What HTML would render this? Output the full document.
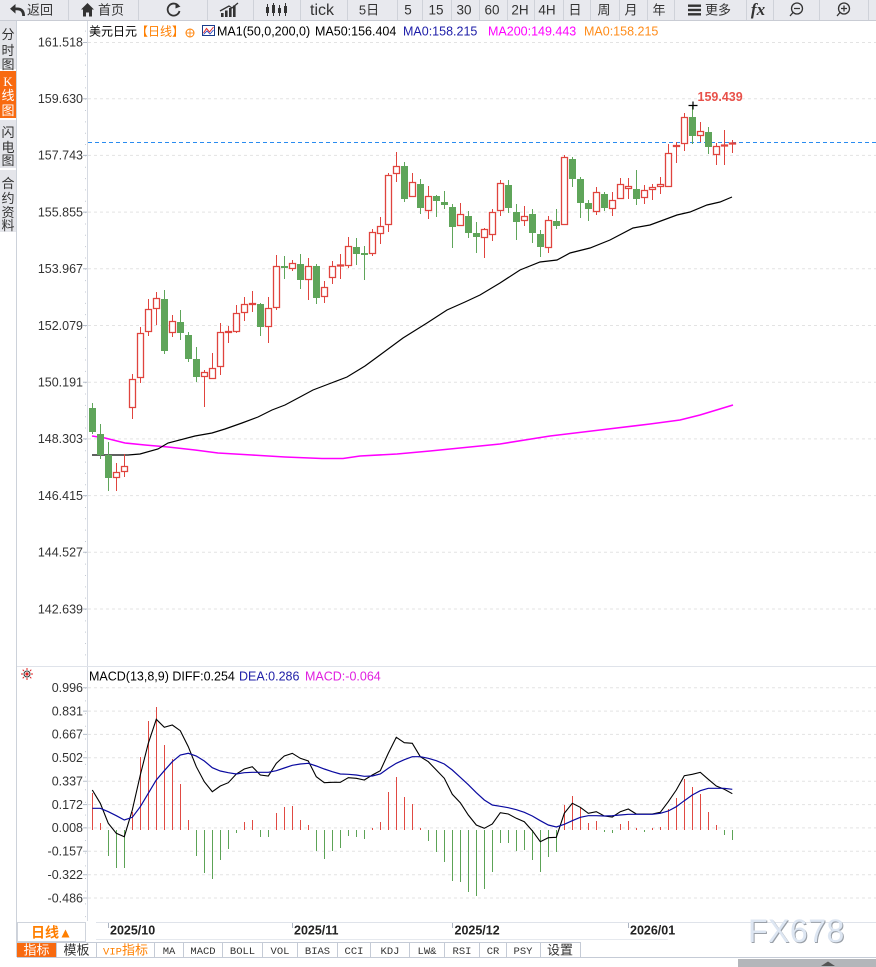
<!DOCTYPE html>
<html><head><meta charset="utf-8"><style>
html,body{margin:0;padding:0;background:#fff;}
svg{display:block;font-family:"Liberation Sans","Noto Sans CJK SC",sans-serif;}
</style></head><body>
<svg width="876" height="967" viewBox="0 0 876 967" xmlns="http://www.w3.org/2000/svg">
<rect x="0" y="0" width="876" height="967" fill="#fff"/>
<!-- toolbar -->
<rect x="0" y="0" width="876" height="20" fill="#e8e9ee"/>
<line x1="0" y1="20.5" x2="876" y2="20.5" stroke="#c9ccd4"/>
<g stroke="#cfd2d9" stroke-width="1">
<path d="M68.5 0V20M138.5 0V20M207.5 0V20M253.5 0V20M300.5 0V20M347.5 0V20M397.5 0V20M422.5 0V20M451.5 0V20M479.5 0V20M507.5 0V20M534.5 0V20M563.5 0V20M590.5 0V20M619.5 0V20M647.5 0V20M674.5 0V20M746.5 0V20M773.5 0V20M819.5 0V20M868.5 0V20"/>
</g>
<g fill="#333">
<path d="M25 16 Q25 7.5 17 7.5 H15.5 V4 L10 8.8 L15.5 13.6 V10.3 H17 Q22.2 10.3 22.2 16 Z"/>
<path d="M87.5 3 L81 9.5 H83 V16.5 H86 V12.5 H89 V16.5 H92 V9.5 H94 Z"/>
<rect x="221" y="13" width="2.6" height="4"/><rect x="225" y="10.5" width="2.6" height="6.5"/><rect x="229" y="8" width="2.6" height="9"/><rect x="233" y="5.5" width="2.6" height="11.5"/>
<rect x="266" y="7" width="3" height="6"/><rect x="272" y="5" width="3" height="8"/><rect x="278" y="8" width="3" height="5"/><rect x="284" y="6" width="3" height="7"/>
<rect x="688" y="4.5" width="13" height="2.4"/><rect x="688" y="8.8" width="13" height="2.4"/><rect x="688" y="13.1" width="13" height="2.4"/>
</g>
<path d="M220 11 L229 6 L232 8 L238 3" stroke="#333" stroke-width="1.3" fill="none"/>
<path d="M267.5 4V16M273.5 3V16M279.5 5V16M285.5 3V16" stroke="#333" stroke-width="1"/>
<path d="M178.5 6 A6 6 0 1 0 179.5 11" stroke="#333" stroke-width="1.8" fill="none"/>
<path d="M175.5 3 L180.5 6.5 L175.5 8.5 Z" fill="#333"/>
<circle cx="797" cy="8.5" r="5.5" stroke="#333" stroke-width="1.3" fill="none"/>
<path d="M794 8.5H800M793 12.5L790 16" stroke="#333" stroke-width="1.3"/>
<circle cx="844" cy="8.5" r="5.5" stroke="#333" stroke-width="1.3" fill="none"/>
<path d="M841 8.5H847M844 5.5V11.5M840 12.5L837 16" stroke="#333" stroke-width="1.3"/>
<g font-size="13" fill="#333" text-anchor="middle">
<text x="40" y="14.5">返回</text>
<text x="111" y="14.5">首页</text>
<text x="322" y="15" font-size="16">tick</text>
<text x="369" y="14.5">5日</text>
<text x="408" y="14.5" font-size="13.5">5</text>
<text x="436" y="14.5" font-size="13.5">15</text>
<text x="464" y="14.5" font-size="13.5">30</text>
<text x="492" y="14.5" font-size="13.5">60</text>
<text x="520" y="14.5" font-size="13.5">2H</text>
<text x="547" y="14.5" font-size="13.5">4H</text>
<text x="575" y="14.5">日</text>
<text x="604" y="14.5">周</text>
<text x="631" y="14.5">月</text>
<text x="659" y="14.5">年</text>
<text x="718" y="14.5">更多</text>
<text x="758" y="15" font-size="17" font-weight="bold" font-style="italic" font-family="Liberation Serif,serif">fx</text>
</g>
<!-- left sidebar -->
<rect x="0" y="21" width="16" height="48" fill="#e4e5ea"/>
<rect x="0" y="71" width="16" height="47" fill="#f86a10"/>
<rect x="0" y="120" width="16" height="48" fill="#e4e5ea"/>
<rect x="0" y="170" width="16" height="62" fill="#e4e5ea"/>
<line x1="16.5" y1="21" x2="16.5" y2="957" stroke="#cdd2da"/>
<g font-size="13" fill="#333" text-anchor="middle">
<text x="8" y="39">分</text><text x="8" y="55">时</text><text x="8" y="69">图</text>
<text x="8" y="86" fill="#fff" font-family="Liberation Serif,serif">K</text><text x="8" y="100" fill="#fff">线</text><text x="8" y="115" fill="#fff">图</text>
<text x="8" y="137">闪</text><text x="8" y="152">电</text><text x="8" y="165">图</text>
<text x="8" y="188">合</text><text x="8" y="203">约</text><text x="8" y="217">资</text><text x="8" y="230">料</text>
</g>
<!-- axes -->
<line x1="87.5" y1="21" x2="87.5" y2="921" stroke="#d6dae2"/>
<line x1="17" y1="666.5" x2="876" y2="666.5" stroke="#dfe3ea"/>
<path d="M85 21V660" stroke="#c4cad4" stroke-width="1" stroke-dasharray="1 10.34" stroke-dashoffset="-9.66" fill="none" transform="translate(0.5,0)"/>
<path d="M85 680V920" stroke="#c4cad4" stroke-width="1" stroke-dasharray="1 11.69" stroke-dashoffset="-7.7" fill="none" transform="translate(0.5,0)"/>
<!-- main grid -->
<g stroke="#e3e3e3" stroke-dasharray="3 3">
<path d="M88 42.5H876M88 98.7H876M88 155.4H876M88 212.1H876M88 268.8H876M88 325.5H876M88 382.2H876M88 438.9H876M88 495.6H876M88 552.3H876M88 609H876"/>
<path d="M88 687.7H876M88 711.1H876M88 734.4H876M88 757.8H876M88 781.2H876M88 804.6H876M88 827.9H876M88 851.3H876M88 874.7H876M88 898H876"/>
</g>
<g stroke="#b8c0cc"><path d="M83 42.5H87M83 98.7H87M83 155.4H87M83 212.1H87M83 268.8H87M83 325.5H87M83 382.2H87M83 438.9H87M83 495.6H87M83 552.3H87M83 609H87M83 687.7H87M83 711.1H87M83 734.4H87M83 757.8H87M83 781.2H87M83 804.6H87M83 827.9H87M83 851.3H87M83 874.7H87M83 898H87"/></g>
<g font-size="12.5" fill="#333" text-anchor="end">
<text x="83" y="46.5">161.518</text><text x="83" y="103">159.630</text><text x="83" y="159.7">157.743</text><text x="83" y="216.4">155.855</text><text x="83" y="273.1">153.967</text><text x="83" y="329.8">152.079</text><text x="83" y="386.5">150.191</text><text x="83" y="443.2">148.303</text><text x="83" y="499.9">146.415</text><text x="83" y="556.6">144.527</text><text x="83" y="613.3">142.639</text>
<text x="83" y="692">0.996</text><text x="83" y="715.4">0.831</text><text x="83" y="738.7">0.667</text><text x="83" y="762.1">0.502</text><text x="83" y="785.5">0.337</text><text x="83" y="808.9">0.172</text><text x="83" y="832.2">0.008</text><text x="83" y="855.6">-0.157</text><text x="83" y="879">-0.322</text><text x="83" y="902.3">-0.486</text>
</g>
<!-- header -->
<g font-size="12.5">
<text x="89" y="35.5" fill="#000" font-size="12">美元日元</text>
<text x="136" y="35.5" fill="#ff7f00" font-size="12">【日线】</text>
<text x="217" y="35.5" fill="#000">MA1(50,0,200,0)</text>
<text x="315" y="35.5" fill="#000">MA50:156.404</text>
<text x="403" y="35.5" fill="#1c1ca8">MA0:158.215</text>
<text x="488" y="35.5" fill="#ff00ff">MA200:149.443</text>
<text x="584" y="35.5" fill="#ff8c1a">MA0:158.215</text>
</g>
<circle cx="190" cy="33" r="4" stroke="#ff7f00" stroke-width="1" fill="none"/>
<path d="M186 33H194M190 29V37" stroke="#ff7f00" stroke-width="0.8"/>
<rect x="202.5" y="25.5" width="12" height="10" fill="#fff" stroke="#1a3c8c"/>
<path d="M203.5 33L206.5 28.5L209.5 32L213.5 27" stroke="#e03030" fill="none"/>
<path d="M203.5 34.5L207 31L210 34L213.5 30" stroke="#2040c0" fill="none" stroke-width="0.8"/>
<!-- current price line -->
<line x1="88" y1="142.5" x2="876" y2="142.5" stroke="#2a8cf0" stroke-dasharray="4 3"/>
<!-- MAs -->
<polyline fill="none" stroke="#ff00ff" stroke-width="1.6" points="92,436 105,438 125,443 145,445 168,447 195,450 218,453 252,455 285,457 322,458.5 343,458.5 360,456 397,454 430,451 480,446 500,444 550,436 600,430 650,424 680,420 700,415 733,405"/>
<polyline fill="none" stroke="#000" stroke-width="1.2" points="92,455 128,455 140,454 158,449 168,443 195,436 212,433 225,429 242,423 258,417 272,410 285,405 300,397 313,390 330,383.5 347,377 365,366 380,355 403,338 427,323 447,310 465,302 480,295 500,283 520,270 540,262 557,260 570,253 590,248 610,240 633,228 650,225 677,215 690,212 707,205 720,202 732,197"/>
<!-- candles -->
<path stroke="#5fa55a" stroke-width="1" fill="none" d="M92.5 403V434M100.5 424V459M108.5 442V491M164.5 290V354M180.5 310V340M188.5 332V362M196.5 347V382M260.5 303V336M284.5 256V279M300.5 254V289M316.5 264V304M356.5 238V265M364.5 246V280M404.5 162V202M420.5 179V214M436.5 195V217M444.5 191V209M452.5 204V248M468.5 211V238M476.5 222V253M508.5 180V213M516.5 204V240M532.5 209V243M540.5 230V257M556.5 209V229M572.5 157V187M580.5 177V218M588.5 200V221M604.5 192V211M636.5 170V205M692.5 105V144M708.5 127V154"/>
<path fill="#5fa55a" d="M89 408h7v24h-7zM97 434h7v21h-7zM105 455h7v23h-7zM161 299h7v52h-7zM177 322h7v11h-7zM185 335h7v24h-7zM193 359h7v18h-7zM257 304h7v23h-7zM281 266h7v2h-7zM297 264h7v16h-7zM313 266h7v32h-7zM353 247h7v7h-7zM361 253h7v2h-7zM401 166h7v33h-7zM417 184h7v24h-7zM433 196h7v5h-7zM441 202h7v3h-7zM449 207h7v20h-7zM465 216h7v17h-7zM473 233h7v4h-7zM505 185h7v23h-7zM513 212h7v10h-7zM529 214h7v19h-7zM537 234h7v13h-7zM553 221h7v5h-7zM569 159h7v20h-7zM577 179h7v24h-7zM585 203h7v6h-7zM601 194h7v14h-7zM633 189h7v10h-7zM689 117h7v19h-7zM705 132h7v15h-7z"/>
<path stroke="#e0443e" stroke-width="1" fill="none" d="M116.5 463V491M124.5 454V477M132.5 374V419M140.5 327V383M148.5 299V336M156.5 292V325M172.5 315V337M204.5 370V407M212.5 353V379M220.5 323V375M228.5 326V343M236.5 305V333M244.5 297V321M252.5 291V312M268.5 297V343M276.5 255V310M292.5 260V271M308.5 258V300M324.5 281V303M332.5 261V284M340.5 254V279M348.5 237V268M372.5 229V256M380.5 217V244M388.5 173V232M396.5 152V182M412.5 173V197M428.5 186V219M460.5 203V226M484.5 228V258M492.5 209V241M500.5 180V216M524.5 206V226M548.5 216V253M564.5 155V225M596.5 187V215M612.5 192V216M620.5 178V199M628.5 178V199M644.5 185V204M652.5 184V200M660.5 177V194M668.5 144V187M676.5 142V163M684.5 113V151M700.5 122V142M716.5 143V165M724.5 130V165M732.5 140V153"/>
<path stroke="#e0443e" stroke-width="1.3" fill="#fff" d="M113.5 472.5h6v5h-6zM121.5 466.5h6v5h-6zM129.5 379.5h6v28h-6zM137.5 333.5h6v44h-6zM145.5 309.5h6v22h-6zM153.5 298.5h6v10h-6zM169.5 321.5h6v11h-6zM201.5 372.5h6v4h-6zM209.5 368.5h6v10h-6zM217.5 332.5h6v34h-6zM225.5 331.5h6v1h-6zM233.5 313.5h6v18h-6zM241.5 304.5h6v8h-6zM249.5 303.5h6v1h-6zM265.5 308.5h6v18h-6zM273.5 266.5h6v41h-6zM289.5 263.5h6v5h-6zM305.5 266.5h6v13h-6zM321.5 287.5h6v9h-6zM329.5 266.5h6v11h-6zM337.5 265h6v1h-6zM345.5 246.5h6v19h-6zM369.5 232.5h6v21h-6zM377.5 226.5h6v7h-6zM385.5 175.5h6v49h-6zM393.5 166.5h6v7h-6zM409.5 182.5h6v14h-6zM425.5 196.5h6v14h-6zM457.5 214.5h6v11h-6zM481.5 229.5h6v8h-6zM489.5 212.5h6v22h-6zM497.5 183.5h6v27h-6zM521.5 216.5h6v4h-6zM545.5 220.5h6v27h-6zM561.5 157.5h6v67h-6zM593.5 192.5h6v19h-6zM609.5 200.5h6v8h-6zM617.5 184.5h6v14h-6zM625.5 186.5h6v2h-6zM641.5 190.5h6v7h-6zM649.5 187.5h6v2h-6zM657.5 184.5h6v2h-6zM665.5 153.5h6v33h-6zM673.5 145.5h6v1h-6zM681.5 117.5h6v26h-6zM697.5 131.5h6v4h-6zM713.5 146.5h6v8h-6zM721.5 145h6v1h-6zM729.5 143h6v1h-6z"/>
<path d="M688.5 105.5H697.5M693 101.5V109.5" stroke="#000" stroke-width="1.2"/>
<text x="697.5" y="101" font-size="12.5" font-weight="bold" fill="#e8514a">159.439</text>
<!-- MACD header -->
<g transform="translate(27,674)">
<path d="M-6 0H-4M4 0H6M0 -6V-4M0 4V6M-4.3 -4.3L-3 -3M3 3L4.3 4.3M-4.3 4.3L-3 3M3 -3L4.3 -4.3" stroke="#e02020" stroke-width="1"/>
<circle r="3" fill="none" stroke="#333" stroke-width="1"/>
<circle r="1.6" fill="#e02020"/>
</g>
<g font-size="12.5">
<text x="89" y="680.5" fill="#000">MACD(13,8,9) DIFF:0.254</text>
<text x="239" y="680.5" fill="#2020a8">DEA:0.286</text>
<text x="305" y="680.5" fill="#e020e0">MACD:-0.064</text>
</g>
<!-- MACD bars -->
<path stroke="#e04a43" stroke-width="1" fill="none" d="M92.5 830V793M100.5 830V823M132.5 830V812M140.5 830V757M148.5 830V721M156.5 830V707M164.5 830V745M172.5 830V759M180.5 830V784M188.5 830V820M244.5 830V822M252.5 830V820M276.5 830V813M284.5 830V807M292.5 830V806M300.5 830V820M308.5 830V825M372.5 830V828M380.5 830V822M388.5 830V792M396.5 830V777M404.5 830V797M412.5 830V804M420.5 830V828M564.5 830V805M572.5 830V796M580.5 830V808M588.5 830V823M596.5 830V821M620.5 830V824M628.5 830V821M636.5 830V828M652.5 830V828M660.5 830V827M668.5 830V809M676.5 830V798M684.5 830V779M692.5 830V787M700.5 830V794M708.5 830V812M716.5 830V825"/>
<path stroke="#5ca356" stroke-width="1" fill="none" d="M108.5 830V856M116.5 830V868M124.5 830V868M196.5 830V856M204.5 830V873M212.5 830V879M220.5 830V860M228.5 830V849M236.5 830V833M260.5 830V837M268.5 830V837M316.5 830V851M324.5 830V859M332.5 830V851M340.5 830V848M348.5 830V836M356.5 830V837M364.5 830V839M428.5 830V841M436.5 830V852M444.5 830V862M452.5 830V881M460.5 830V882M468.5 830V892M476.5 830V896M484.5 830V889M492.5 830V872M500.5 830V843M508.5 830V843M516.5 830V851M524.5 830V850M532.5 830V860M540.5 830V872M548.5 830V857M556.5 830V852M604.5 830V832M612.5 830V833M644.5 830V832M724.5 830V835M732.5 830V840"/>
<polyline fill="none" stroke="#000" stroke-width="1.1" points="92.3,790 100.3,803.3 108.3,823.3 116.3,833.3 124.3,836.7 132.3,810 140.3,775 148.3,743.3 156.3,719.3 164.3,727.3 172.3,725 180.3,730.7 188.3,746.7 196.3,766.7 204.3,781.7 212.3,791.7 220.3,786 228.3,782.7 236.3,774 244.3,769 252.3,766.7 260.3,775 268.3,776 276.3,763.3 284.3,756 292.3,753.3 300.3,758.3 308.3,761 316.3,776.7 324.3,782.7 332.3,782.3 340.3,782.3 348.3,777.7 356.3,778.3 364.3,780 372.3,775 380.3,770.7 388.3,753.3 396.3,737.3 404.3,742.7 412.3,743.3 420.3,756.7 428.3,761.7 436.3,770 444.3,778.3 452.3,794.3 460.3,802.7 468.3,815 476.3,825 484.3,828.3 492.3,824 500.3,812.7 508.3,814 516.3,818.3 524.3,821.7 532.3,830.7 540.3,841.7 548.3,837.7 556.3,837.3 564.3,813.3 572.3,803.3 580.3,807.3 588.3,813.3 596.3,811.7 604.3,816 612.3,817 620.3,811.7 628.3,809 636.3,814 644.3,814 652.3,814 660.3,812.3 668.3,801.7 676.3,790 684.3,775.7 692.3,774.3 700.3,772.3 708.3,779.3 716.3,786 724.3,789.3 732.3,793.7"/>
<polyline fill="none" stroke="#0a0aa0" stroke-width="1.2" points="92.3,808.3 100.3,808.3 108.3,811.7 116.3,815.7 124.3,820 132.3,817.3 140.3,806.7 148.3,793.3 156.3,780 164.3,770.7 172.3,761.7 180.3,755 188.3,753.3 196.3,756 204.3,761 212.3,767.7 220.3,771 228.3,772.7 236.3,774 244.3,772.7 252.3,772.3 260.3,772.3 268.3,772.3 276.3,770.7 284.3,768 292.3,765.3 300.3,764 308.3,763.3 316.3,766 324.3,769 332.3,771.7 340.3,774 348.3,774.3 356.3,775 364.3,776.3 372.3,776 380.3,774 388.3,768.3 396.3,763.3 404.3,759.7 412.3,756.7 420.3,756.7 428.3,758.3 436.3,760.7 444.3,764 452.3,770 460.3,777.3 468.3,784.7 476.3,792.7 484.3,800 492.3,805 500.3,806.3 508.3,807.7 516.3,809.7 524.3,812.3 532.3,816 540.3,820.7 548.3,825 556.3,827 564.3,824.3 572.3,820.7 580.3,817.3 588.3,815.7 596.3,815.7 604.3,816 612.3,815.7 620.3,815 628.3,814.3 636.3,814.3 644.3,814.3 652.3,814.3 660.3,813.3 668.3,811 676.3,806.7 684.3,800.7 692.3,795 700.3,790.7 708.3,788.3 716.3,788.3 724.3,788.3 732.3,789.3"/>
<!-- x axis -->
<line x1="96" y1="922.5" x2="876" y2="922.5" stroke="#dfe3ea"/>
<line x1="96" y1="939.5" x2="668" y2="939.5" stroke="#e6e9ee"/>
<path d="M108.5 923V928M292.5 923V928M452.5 923V928M628.5 923V928" stroke="#aab2bf"/>
<g font-size="12.5" font-weight="bold" fill="#222">
<text x="110" y="934.5">2025/10</text>
<text x="294" y="934.5">2025/11</text>
<text x="454.5" y="934.5">2025/12</text>
<text x="630" y="934.5">2026/01</text>
</g>
<!-- watermark -->
<text x="749" y="943" font-size="32" fill="#9aa0a8" letter-spacing="0.5">FX678</text>
<text x="748" y="942" font-size="32" fill="#dde6f2" letter-spacing="0.5">FX678</text>
<!-- 日线 box -->
<rect x="17.5" y="922.5" width="68" height="19" fill="#fff" stroke="#cfd4dc"/>
<text x="31" y="937.5" font-size="14" fill="#ff7f00" font-weight="bold">日线</text>
<path d="M61.5 937.5L65.5 929.5L69.5 937.5Z" fill="#ff7f00"/>
<!-- bottom tabs -->
<rect x="17" y="942" width="39" height="15" fill="#f86a10"/>
<path d="M17 942.5H580M17 957.5H876" stroke="#c5cbd6"/>
<path d="M56.5 942V957M96.5 942V957M154.5 942V957M183.5 942V957M222.5 942V957M262.5 942V957M297.5 942V957M337.5 942V957M370.5 942V957M409.5 942V957M444.5 942V957M479.5 942V957M506.5 942V957M540.5 942V957M580.5 942V957" stroke="#c5cbd6"/>
<g font-size="13" text-anchor="middle">
<text x="36.5" y="954.5" fill="#fff">指标</text>
<text x="76.5" y="954.5" fill="#333">模板</text>
<text x="125.5" y="954.5" fill="#ff8000"><tspan font-family="Liberation Mono,monospace" font-size="10.5">VIP</tspan>指标</text>
<text x="560" y="954.5" fill="#333">设置</text>
</g>
<g font-size="10.5" fill="#333" text-anchor="middle" font-family="Liberation Mono,monospace">
<text x="169" y="954">MA</text>
<text x="203" y="954">MACD</text>
<text x="242.5" y="954">BOLL</text>
<text x="280" y="954">VOL</text>
<text x="317.5" y="954">BIAS</text>
<text x="354" y="954">CCI</text>
<text x="390" y="954">KDJ</text>
<text x="427" y="954">LW&amp;</text>
<text x="462" y="954">RSI</text>
<text x="493" y="954">CR</text>
<text x="523" y="954">PSY</text>
</g>
<rect x="738" y="959" width="138" height="8" fill="#b4b6ba"/>
<path d="M821 966L828 961.5L835 966Z" fill="#555"/>
</svg>
</body></html>
